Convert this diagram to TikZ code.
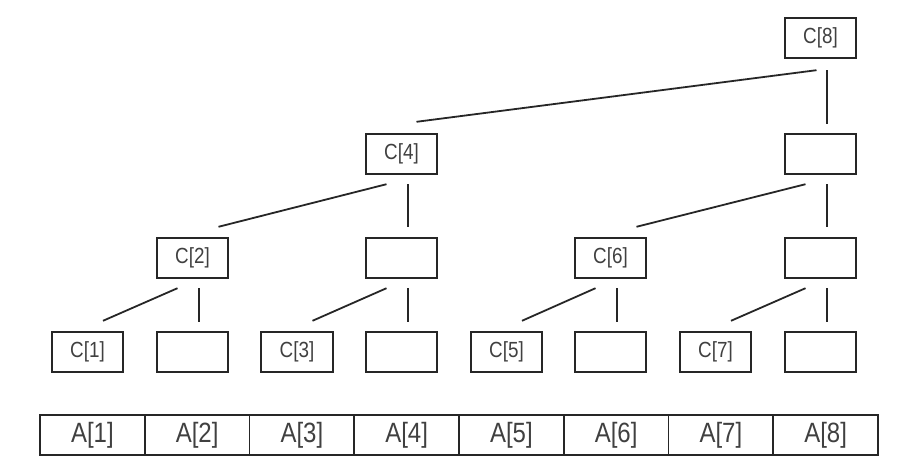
\documentclass[tikz,border=0pt]{standalone}
\usepackage{fontspec}
\setmainfont{Liberation Sans}
\newfontfamily\labfont[FakeStretch=0.86]{Liberation Sans}
\usetikzlibrary{calc}
\begin{document}
\begin{tikzpicture}[x=1bp,y=-1bp,
  cbox/.style={draw=black!85, line width=1.9bp, minimum width=71.5bp, minimum height=40.5bp, inner sep=0pt,
    font=\labfont\fontsize{22}{22}\selectfont, text=black!75},
  acell/.style={draw=black!85, line width=1.9bp, minimum width=104.75bp, minimum height=40.5bp, inner sep=0pt,
    font=\labfont\fontsize{28}{28}\selectfont, text=black!75},
  link/.style={draw=black!85, line width=1.8bp}]
\useasboundingbox (0,0) rectangle (904,475);
% row 1
\node[cbox] (c8) at (820.5,38) {C[8]};
% row 2
\node[cbox] (c4) at (401.5,154) {C[4]};
\node[cbox] (r2b) at (820.5,154) {};
% row 3
\node[cbox] (c2) at (192.5,258) {C[2]};
\node[cbox] (r3b) at (401.5,258) {};
\node[cbox] (c6) at (610.5,258) {C[6]};
\node[cbox] (r3d) at (820.5,258) {};
% row 4
\node[cbox] (c1) at (87.5,352) {C[1]};
\node[cbox] (r4b) at (192.5,352) {};
\node[cbox] (c3) at (297,352) {C[3]};
\node[cbox] (r4d) at (401.5,352) {};
\node[cbox] (c5) at (506.5,352) {C[5]};
\node[cbox] (r4f) at (610.5,352) {};
\node[cbox] (c7) at (715.5,352) {C[7]};
\node[cbox] (r4h) at (820.5,352) {};
% array
\foreach \i in {1,...,8}{
  \pgfmathsetmacro{\cx}{40+104.75*(\i-0.5)}
  \node[acell] (a\i) at (\cx,435) {A[\i]};
}
% level 1 links
\draw[link] ($(c8.south)+(-4,11)$) -- ($(c4.north)+(15,-11)$);
\draw[link] ($(c8.south)+(6.5,11)$) -- ($(r2b.north)+(6.5,-9)$);
% level 2 links
\foreach \p/\c/\d in {c4/c2/r3b, r2b/c6/r3d}{
  \draw[link] ($(\p.south)+(-15,9)$) -- ($(\c.north)+(26,-10)$);
  \draw[link] ($(\p.south)+(6.5,9)$) -- ($(\d.north)+(6.5,-10)$);
}
% level 3 links
\foreach \p/\c/\d in {c2/c1/r4b, r3b/c3/r4d, c6/c5/r4f, r3d/c7/r4h}{
  \draw[link] ($(\p.south)+(-15,9)$) -- ($(\c.north)+(15.5,-10)$);
  \draw[link] ($(\p.south)+(6.5,9)$) -- ($(\d.north)+(6.5,-9)$);
}
\end{tikzpicture}
\end{document}
